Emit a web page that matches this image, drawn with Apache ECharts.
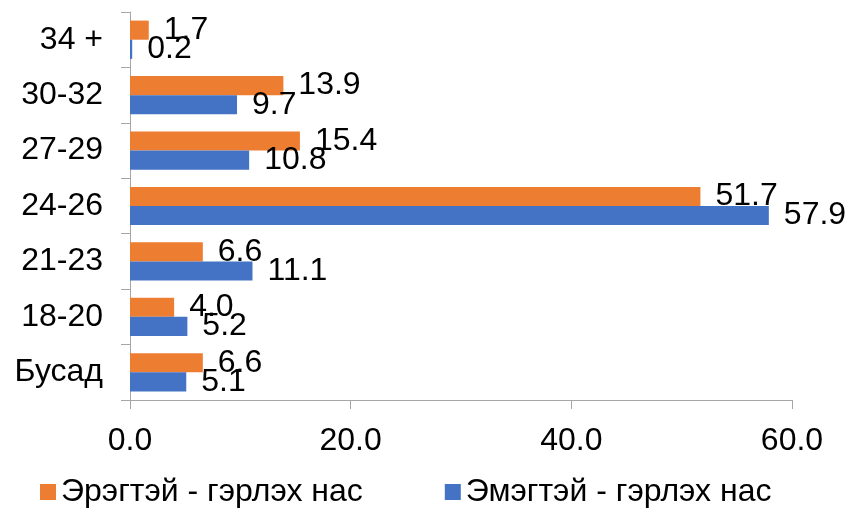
<!DOCTYPE html>
<html>
<head>
<meta charset="utf-8">
<script src="https://cdn.jsdelivr.net/npm/echarts@6/dist/echarts.min.js"></script>
<style>html,body{margin:0;padding:0;background:#fff}#c{width:846px;height:508px}</style>
</head>
<body>
<div id="c"></div>
<script>
const categories = ["Бусад", "18-20", "21-23", "24-26", "27-29", "30-32", "34 +"];
const seriesNames = ["Эрэгтэй - гэрлэх нас", "Эмэгтэй - гэрлэх нас"];
const maleValues = [6.6, 4.0, 6.6, 51.7, 15.4, 13.9, 1.7];
const femaleValues = [5.1, 5.2, 11.1, 57.9, 10.8, 9.7, 0.2];
const xTicks = [0, 20, 40, 60];

const FONT = '"Liberation Sans", Arial, sans-serif';
const chart = echarts.init(document.getElementById('c'), null, {renderer: 'canvas'});
const labelCfg = {
  show: true, position: 'right', distance: 15,
  fontSize: 32, fontFamily: FONT, color: '#000',
  formatter: p => p.value.toFixed(1)
};
chart.setOption({
  animation: false,
  textStyle: {fontFamily: FONT},
  grid: {left: 130, right: 54, top: 12, bottom: 108, containLabel: false},
  legend: {
    top: 476, left: 40, padding: 0,
    itemWidth: 16, itemHeight: 16, itemGap: 82, icon: 'rect',
    textStyle: {fontSize: 32, fontFamily: FONT, color: '#000'},
    data: seriesNames
  },
  xAxis: {
    type: 'value', min: xTicks[0], max: xTicks[xTicks.length - 1], interval: 20,
    axisLine: {show: true, lineStyle: {color: '#a6a6a6', width: 1}},
    axisTick: {show: true, length: 9, lineStyle: {color: '#a6a6a6'}},
    splitLine: {show: false},
    axisLabel: {fontSize: 32, fontFamily: FONT, color: '#000', margin: 25,
      formatter: v => v.toFixed(1)}
  },
  yAxis: {
    type: 'category', data: categories,
    axisLine: {show: true, lineStyle: {color: '#a6a6a6', width: 1}},
    axisTick: {show: true, length: 9, lineStyle: {color: '#a6a6a6'}},
    axisLabel: {fontSize: 32, fontFamily: FONT, color: '#000', margin: 27}
  },
  series: [
    {name: seriesNames[0], type: 'bar', data: maleValues, barGap: '0%', barCategoryGap: '31%',
     itemStyle: {color: '#ED7D31'}, label: labelCfg},
    {name: seriesNames[1], type: 'bar', data: femaleValues, barGap: '0%', barCategoryGap: '31%',
     itemStyle: {color: '#4472C4'}, label: labelCfg}
  ]
});
</script>
</body>
</html>
